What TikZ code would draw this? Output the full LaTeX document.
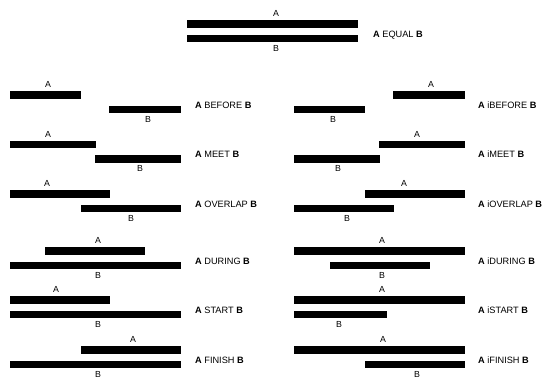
\documentclass[tikz,border=0pt]{standalone}
\usepackage{fontspec}
\setmainfont{Liberation Sans}
\begin{document}
\begin{tikzpicture}[x=1pt,y=-1pt,
  barfill/.style={fill=black},
  lbl/.style={inner sep=0pt,font=\fontsize{8.8}{10}\selectfont},
  reltext/.style={inner sep=0pt,anchor=base west,font=\fontsize{9.2}{11}\selectfont}]
\useasboundingbox (0,0) rectangle (544,381);
% #1 name, #2 xA1, #3 xA2, #4 xB1, #5 xB2, #6 yA top, #7 relation, #8 A label x, #9 B label x
\newcommand\relrow[9]{%
  \fill[barfill] (#2,#6) rectangle (#3,#6+7.5);
  \node[lbl] (#1A) at (#8,#6-6.5) {A};
  \fill[barfill] (#4,#6+14.5) rectangle (#5,#6+22);
  \node[lbl] (#1B) at (#9,#6+28) {B};
  \node[reltext] (#1T) at (\tx,#6+17) {\textbf{A} #7 \textbf{B}};
}
\def\tx{373}
\relrow{eq}{187}{358}{187}{358}{20}{EQUAL}{276}{276}
% left column
\def\tx{195}
\relrow{bef}{10}{81}{109}{181}{91}{BEFORE}{48}{148}
\relrow{meet}{10}{96}{95}{181}{140.5}{MEET}{48}{140}
\relrow{ovl}{10}{110}{81}{181}{190}{OVERLAP}{47}{131}
\relrow{dur}{45}{145}{10}{181}{247}{DURING}{98}{98}
\relrow{sta}{10}{110}{10}{181}{296}{START}{56}{98}
\relrow{fin}{81}{181}{10}{181}{346}{FINISH}{133}{98}
% right column
\def\tx{478}
\relrow{ibef}{393}{465}{294}{365}{91}{iBEFORE}{431}{333}
\relrow{imeet}{379}{465}{294}{380}{140.5}{iMEET}{417}{338}
\relrow{iovl}{365}{465}{294}{394}{190}{iOVERLAP}{404}{347}
\relrow{idur}{294}{465}{330}{430}{247}{iDURING}{382}{382}
\relrow{ista}{294}{465}{294}{387}{296}{iSTART}{382}{339}
\relrow{ifin}{294}{465}{365}{465}{346}{iFINISH}{383}{417}
\end{tikzpicture}
\end{document}
